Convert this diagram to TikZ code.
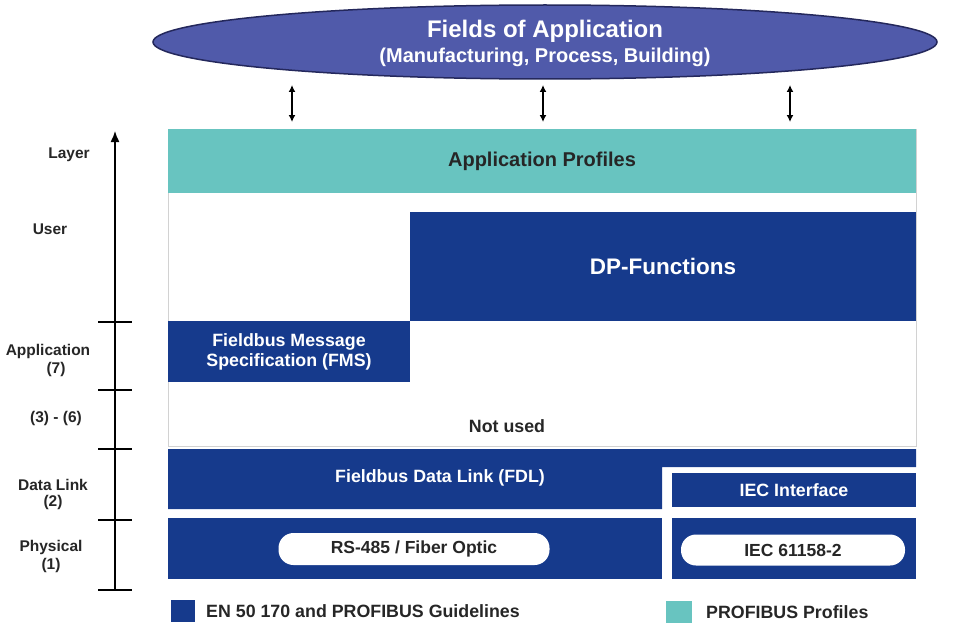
\documentclass[tikz,border=0pt]{standalone}
\usepackage{fontspec}
\setmainfont{Liberation Sans}
\usepackage{tikz}
\usetikzlibrary{arrows.meta,shapes.geometric}

\definecolor{pbblue}{RGB}{22,58,140}
\definecolor{pbteal}{RGB}{104,196,192}
\definecolor{fieldblue}{RGB}{80,90,170}
\definecolor{fieldedge}{RGB}{36,40,92}
\definecolor{txtgray}{RGB}{38,38,38}

\begin{document}
\begin{tikzpicture}[x=1pt,y=-1pt,
  blk/.style={fill=pbblue,text=white,inner sep=0pt,
    font=\fontsize{17.8}{20}\selectfont\bfseries},
  pill/.style={fill=white,rounded corners=15pt,inner sep=0pt,text=txtgray,
    font=\fontsize{17.5}{20}\selectfont\bfseries},
  lbl/.style={text=txtgray,align=center,
    font=\fontsize{15.5}{18}\selectfont\bfseries},
  dblarr/.style={{Latex[length=7pt,width=7pt]}-{Latex[length=7pt,width=7pt]},
    line width=1.4pt}]
\useasboundingbox (0,0) rectangle (959,626);

% fields of application
\node[ellipse,fill=fieldblue,draw=fieldedge,line width=1.5pt,
  minimum width=784,minimum height=74] (fields) at (545,42) {};
\node[text=white,font=\fontsize{24}{28}\selectfont\bfseries]
  (fieldstitle) at (545,31) {Fields of Application};
\node[text=white,font=\fontsize{20}{24}\selectfont\bfseries]
  (fieldssub) at (545,57) {(Manufacturing, Process, Building)};
\foreach \x [count=\i] in {292,543,790}
{
	\coordinate (up\i) at (\x,85);
	\coordinate (dn\i) at (\x,122);
	\draw[dblarr] (up\i) -- (dn\i);
}

% layer axis
\coordinate (axbot) at (115,590);
\coordinate (axtop) at (115,131);
\draw[-{Latex[length=11pt,width=9pt]},line width=1.4pt] (axbot) -- (axtop);
\foreach \y in {322,390,449,520,590}
	\draw[line width=1.4pt] (98,\y) -- (132,\y);
\node[lbl] (layer) at (69,155) {Layer};
\node[lbl] (user) at (50,229) {User};
\node[lbl] (appl) at (48,351) {Application};
\node[lbl] (appn) at (56,369) {(7)};
\node[lbl] (mid) at (56,418) {(3) - (6)};
\node[lbl] (dlink) at (53,485) {Data Link};
\node[lbl] (dlinkn) at (53,502) {(2)};
\node[lbl] (phys) at (51,547) {Physical};
\node[lbl] (physn) at (51,565) {(1)};

% protocol stack
\draw[gray!35,line width=0.8pt] (168,129) rectangle (916,446);
\node[fill=pbteal,inner sep=0pt,minimum width=748,minimum height=64,
  text=txtgray,font=\fontsize{20}{24}\selectfont\bfseries]
  (profiles) at (542,161) {Application Profiles};
\node[blk,minimum width=506,minimum height=109,
  font=\fontsize{22.5}{26}\selectfont\bfseries] (dp) at (663,266.5) {DP-Functions};
\node[blk,minimum width=242,minimum height=61,align=center] (fms) at (289,351.5)
  {Fieldbus Message\\Specification (FMS)};
\node[text=txtgray,font=\fontsize{17.8}{20}\selectfont\bfseries]
  (notused) at (507,426) {Not used};
\fill[pbblue] (168,449) -- (916,449) -- (916,467) -- (662,467) -- (662,509)
  -- (168,509) -- cycle;
\node[text=white,font=\fontsize{17.8}{20}\selectfont\bfseries]
  (fdl) at (440,478) {Fieldbus Data Link (FDL)};
\node[blk,minimum width=244,minimum height=34] (iec) at (794,490) {IEC Interface};
\node[blk,minimum width=494,minimum height=61] (physl) at (415,548.5) {};
\node[blk,minimum width=244,minimum height=61] (physr) at (794,548.5) {};
\node[pill,minimum width=271,minimum height=32] (rs) at (414,549)
  {RS-485 / Fiber Optic};
\node[pill,minimum width=224,minimum height=31] (iecphy) at (793,550)
  {IEC 61158-2};

% legend
\node[fill=pbblue,inner sep=0pt,minimum width=24,minimum height=22]
  (keyblue) at (183,611) {};
\node[anchor=west,inner sep=0pt,text=txtgray,
  font=\fontsize{17.8}{20}\selectfont\bfseries]
  (keybluetxt) at (206,611) {EN 50 170 and PROFIBUS Guidelines};
\node[fill=pbteal,inner sep=0pt,minimum width=26,minimum height=22]
  (keyteal) at (679,612) {};
\node[anchor=west,inner sep=0pt,text=txtgray,
  font=\fontsize{17.8}{20}\selectfont\bfseries]
  (keytealtxt) at (706,612) {PROFIBUS Profiles};
\end{tikzpicture}
\end{document}
